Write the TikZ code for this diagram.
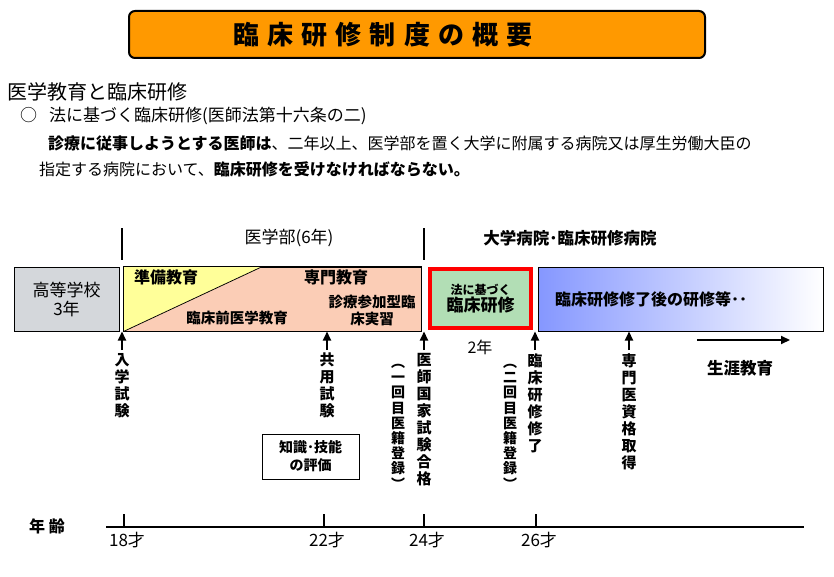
\documentclass[tikz,border=0pt]{standalone}
\usepackage{fontspec}
\setmainfont{Noto Sans CJK JP}
\usetikzlibrary{arrows.meta}
\definecolor{titleorange}{RGB}{255,153,0}
\definecolor{schoolgray}{RGB}{212,215,219}
\definecolor{medsalmon}{RGB}{251,205,182}
\definecolor{prepyellow}{RGB}{255,255,153}
\definecolor{lawgreen}{RGB}{178,222,181}
\definecolor{gradblue}{RGB}{133,151,255}
\newcommand{\fsz}[2]{\fontsize{#1}{#2}\selectfont}

\begin{document}
\begin{tikzpicture}
[x=1pt,y=-1pt,%
  every node/.style={inner sep=0pt},%
  box/.style={draw,line width=1pt,minimum height=64pt},%
  boldtext/.style={font=\bfseries\fsz{16}{16}},%
  vtext/.style={anchor=north,align=center,font=\bfseries\fsz{15}{17}},%
  regtext/.style={anchor=north,align=center,font=\bfseries\fsz{14}{15.2}},%
  uparrow/.style={-{Triangle[width=8pt,length=9pt]},line width=2pt},%
  rightarrow/.style={-{Triangle[width=8pt,length=9pt]},line width=2pt}]
\useasboundingbox (0,0) rectangle (834,577);
\node[draw,line width=2pt,rounded corners=6pt,fill=titleorange,
  minimum width=576pt,minimum height=47pt] (titlebox) at (417,34.5) {};
\node[font=\bfseries\fsz{26}{26}\addfontfeature{LetterSpace=31}]
  (title) at (383,35) {臨床研修制度の概要};
\node[anchor=west,font=\fsz{20}{20}] (heading) at (7,92) {医学教育と臨床研修};
\node[anchor=west,font=\fsz{17}{17}] (lawline) at (20,116)
  {○\hspace{12pt}法に基づく臨床研修(医師法第十六条の二)};
\node[anchor=west,font=\fsz{16}{16}] (lawtext) at (48,143)
  {\textbf{診療に従事しようとする医師は}、二年以上、医学部を置く大学に附属する病院又は厚生労働大臣の};
\node[anchor=west,font=\fsz{16}{16}] (lawtextb) at (39,169)
  {指定する病院において、\textbf{臨床研修を受けなければならない。}};
\draw[line width=2pt] (122,228) -- (122,260);
\draw[line width=2pt] (424,228) -- (424,260);
\node[font=\fsz{17}{17}] (medyears) at (289,238) {医学部(6年)};
\node[font=\bfseries\fsz{16.5}{16.5}] (hospitals) at (570,238) {大学病院･臨床研修病院};
\node[box,fill=schoolgray,minimum width=105pt,align=center,font=\fsz{17}{19}]
  (school) at (66.5,299) {高等学校\\3年};
\node[box,fill=medsalmon,minimum width=297pt] (med) at (272.5,299) {};
\fill[prepyellow] (med.north west) -- ++(139,0) -- (med.south west) -- cycle;
\draw[line width=0.75pt] ([xshift=139pt]med.north west) -- (med.south west);
\draw[line width=1pt] (med.north west) rectangle (med.south east);
\node[boldtext] (prep) at (166,277) {準備教育};
\node[boldtext] (special) at (336,277) {専門教育};
\node[font=\bfseries\fsz{14.5}{14.5}] (preclin) at (237,318) {臨床前医学教育};
\node[align=center,font=\bfseries\fsz{14.5}{17}] (clerkship) at (372,310) {診療参加型臨\\床実習};
\node[draw=red,line width=4pt,fill=lawgreen,minimum width=101pt,minimum height=59pt,
  align=center,font=\bfseries] (training) at (480.5,298.5)
  {{\fsz{12}{18}法に基づく}\\{\fsz{17}{18}臨床研修}};
\node[box,minimum width=285pt,left color=gradblue,right color=white] (after) at (680.5,299) {};
\node[boldtext,anchor=west] (aftertext) at (555,299) {臨床研修修了後の研修等･･};
\node[vtext] (entrance) at (122,353) {入\\学\\試\\験};
\node[vtext] (cbt) at (327,353) {共\\用\\試\\験};
\node[vtext] (exam) at (424,353) {医\\師\\国\\家\\試\\験\\合\\格};
\node[vtext] (completion) at (535,353) {臨\\床\\研\\修\\修\\了};
\node[vtext] (specialist) at (629,353) {専\\門\\医\\資\\格\\取\\得};
\foreach \n in {entrance,cbt,exam,completion,specialist}
  \draw[uparrow] ([yshift=3pt]\n.north) -- (\n.north |- med.south);
\node[regtext] (regfirst) at (398,364) {︵\\一\\回\\目\\医\\籍\\登\\録\\︶};
\node[regtext] (regsecond) at (510,364) {︵\\二\\回\\目\\医\\籍\\登\\録\\︶};
\node[font=\fsz{16}{16}] (twoyears) at (480,347) {2年};
\coordinate (lifestart) at (697,340);
\coordinate (lifeend) at (790,340);
\draw[rightarrow] (lifestart) -- (lifeend);
\node[font=\bfseries\fsz{16.5}{16.5}] (lifelong) at (740,368) {生涯教育};
\node[draw,line width=1pt,minimum width=97pt,minimum height=45pt,align=center,
  font=\bfseries\fsz{14}{18}] (skills) at (310.5,456.5) {知識･技能\\の評価};
\node[font=\bfseries\fsz{16}{16}] (age) at (47,526) {年 齢};
\draw[line width=2pt] (106,527) -- (804,527);
\foreach \x/\yr in {124/18,324/22,424/24,536/26}{
  \draw[line width=2pt] (\x,514) -- (\x,527);
  \node[font=\fsz{17}{17}] (age\yr) at (\x+3,540) {\yr 才};
}
\end{tikzpicture}
\end{document}
